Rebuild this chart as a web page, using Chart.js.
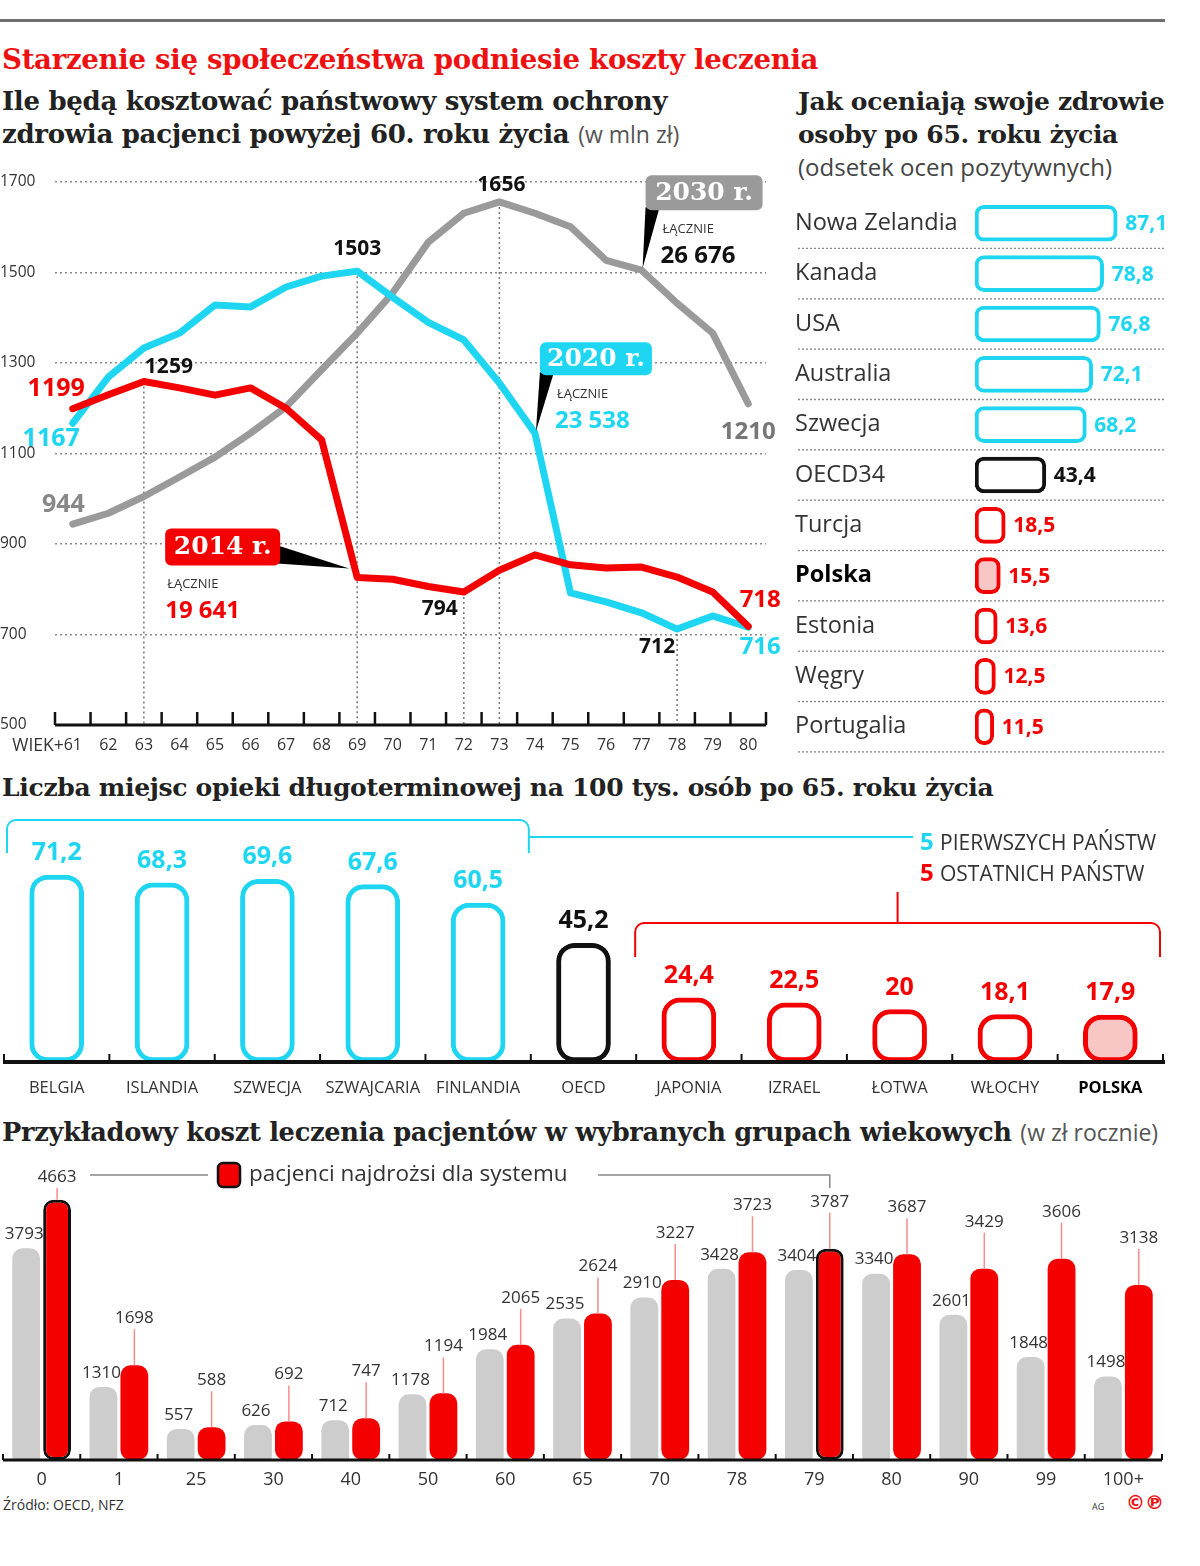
<!DOCTYPE html>
<html lang="pl">
<head>
<meta charset="utf-8">
<script src="https://cdn.jsdelivr.net/npm/chart.js@4.4.1/dist/chart.umd.min.js"></script>
<style>
  body { margin: 0; background: #fff; width: 1200px; height: 1566px; position: relative; overflow: hidden;
         font-family: 'Open Sans', sans-serif; color: #222; }
  .abs { position: absolute; white-space: nowrap; }
  .serif { font-family: 'DejaVu Serif', serif; font-weight: bold; letter-spacing: -0.3px; }
  .note { font-family: 'Open Sans', sans-serif; font-weight: normal; color: #555; letter-spacing: 0; }
  canvas { position: absolute; }
</style>
</head>
<body>
<div class="abs" style="left:0;top:19px;width:1165px;height:3px;background:#6e6e6e"></div>
<div class="abs serif" style="left:2px;top:43px;font-size:27.6px;color:#ee1111">Starzenie się społeczeństwa podniesie koszty leczenia</div>
<div class="abs serif" style="left:2px;top:85px;font-size:26px;line-height:33px">Ile będą kosztować państwowy system ochrony<br>zdrowia pacjenci powyżej 60. roku życia <span class="note" style="font-size:23px">(w mln zł)</span></div>
<div class="abs serif" style="left:798px;top:85px;font-size:25px;line-height:33px">Jak oceniają swoje zdrowie<br>osoby po 65. roku życia</div>
<div class="abs note" style="left:798px;top:150px;font-size:24px;color:#444">(odsetek ocen pozytywnych)</div>
<div class="abs serif" style="left:2px;top:773px;font-size:25px">Liczba miejsc opieki długoterminowej na 100 tys. osób po 65. roku życia</div>
<div class="abs serif" style="left:2px;top:1116px;font-size:25.7px">Przykładowy koszt leczenia pacjentów w wybranych grupach wiekowych <span class="note" style="font-size:23px">(w zł rocznie)</span></div>
<div class="abs" style="left:3px;top:1495px;font-size:14px;color:#333">Źródło: OECD, NFZ</div>
<div class="abs" style="left:1092px;top:1500px;font-size:9px;color:#333">AG</div>
<div class="abs" style="left:1126px;top:1491px;font-size:19px;font-weight:bold;color:#ee1111;font-family:'DejaVu Sans'">©℗</div>

<canvas id="lineChart" width="780" height="600" style="left:0;top:170px"></canvas>
<canvas id="healthChart" width="385" height="582" style="left:795px;top:184px"></canvas>
<canvas id="careChart" width="1200" height="300" style="left:0;top:810px"></canvas>
<canvas id="costChart" width="1200" height="345" style="left:0;top:1150px"></canvas>

<script>
// --- data ---
var lineAges = ['61', '62', '63', '64', '65', '66', '67', '68', '69', '70', '71', '72', '73', '74', '75', '76', '77', '78', '79', '80'];
var cost2014 = [1199, 1230, 1259, 1245, 1229, 1245, 1200, 1130, 826, 822, 806, 794, 842, 876, 854, 847, 849, 827, 794, 718];
var cost2020 = [1167, 1269, 1333, 1366, 1428, 1424, 1468, 1492, 1503, 1445, 1390, 1351, 1256, 1145, 792, 772, 748, 712, 741, 716];
var cost2030 = [944, 968, 1005, 1048, 1092, 1145, 1203, 1285, 1366, 1455, 1567, 1631, 1656, 1631, 1601, 1527, 1505, 1432, 1366, 1210];
var yearNames = ['2014 r.', '2020 r.', '2030 r.'];
var yearTotals = ['19 641', '23 538', '26 676'];
var lineTicksY = [500, 700, 900, 1100, 1300, 1500, 1700];

var healthCountries = ['Nowa Zelandia', 'Kanada', 'USA', 'Australia', 'Szwecja', 'OECD34', 'Turcja', 'Polska', 'Estonia', 'Węgry', 'Portugalia'];
var healthShare = [87.1, 78.8, 76.8, 72.1, 68.2, 43.4, 18.5, 15.5, 13.6, 12.5, 11.5];

var careCountries = ['BELGIA', 'ISLANDIA', 'SZWECJA', 'SZWAJCARIA', 'FINLANDIA', 'OECD', 'JAPONIA', 'IZRAEL', 'ŁOTWA', 'WŁOCHY', 'POLSKA'];
var careBeds = [71.2, 68.3, 69.6, 67.6, 60.5, 45.2, 24.4, 22.5, 20, 18.1, 17.9];

var ageGroups = ['0', '1', '25', '30', '40', '50', '60', '65', '70', '78', '79', '80', '90', '99', '100+'];
var avgCost = [3793, 1310, 557, 626, 712, 1178, 1984, 2535, 2910, 3428, 3404, 3340, 2601, 1848, 1498];
var maxCost = [4663, 1698, 588, 692, 747, 1194, 2065, 2624, 3227, 3723, 3787, 3687, 3429, 3606, 3138];
var costliest = ['0', '79'];

// --- styles ---
var RED = '#f40000', CYAN = '#1ed6f2', GRAY = '#9a9a9a', PINK = '#f9c6c6';
var SANS = "'Open Sans', sans-serif";
Chart.defaults.font.family = SANS;
Chart.defaults.animation = false;

function pl(v) { return String(v).replace('.', ','); }
function groupColor(name, i) { // first five / average / last five
  if (i < 5) return CYAN;
  if (i === 5) return '#111';
  return RED;
}

// ===== line chart =====
var pointLabels = [
  { ds: 0, i: 0, dx: 12, dy: -20, align: 'right', color: RED, size: 25 },
  { ds: 1, i: 0, dx: 7, dy: 16, align: 'right', color: CYAN, size: 25 },
  { ds: 2, i: 0, dx: 12, dy: -19, align: 'right', color: '#888', size: 25 },
  { ds: 0, i: 2, dx: 25, dy: -15, align: 'center', color: '#111', size: 21 },
  { ds: 1, i: 8, dx: 0, dy: -22, align: 'center', color: '#111', size: 21 },
  { ds: 2, i: 12, dx: 2, dy: -17, align: 'center', color: '#111', size: 21 },
  { ds: 0, i: 11, dx: -24, dy: 17, align: 'center', color: '#111', size: 21 },
  { ds: 1, i: 17, dx: -20, dy: 18, align: 'center', color: '#111', size: 21 },
  { ds: 0, i: 19, dx: 12, dy: -26, align: 'center', color: RED, size: 24 },
  { ds: 1, i: 19, dx: 12, dy: 20, align: 'center', color: CYAN, size: 24 },
  { ds: 2, i: 19, dx: 0, dy: 28, align: 'center', color: '#777', size: 24 }
];
var dropLines = [[0, 2], [1, 8], [2, 12], [0, 11], [1, 17]];
var callouts = [
  { ds: 0, i: 8, bx: -192, by: -49, bw: 115, bh: 37, tail: 'right', lx: 2, fill: RED, totalColor: RED },
  { ds: 1, i: 13, bx: 5, by: -91, bw: 112, bh: 33, tail: 'down', lx: 17, fill: CYAN, totalColor: CYAN },
  { ds: 2, i: 16, bx: 4, by: -95, bw: 117, bh: 35, tail: 'down', lx: 17, fill: GRAY, totalColor: '#111' }
];

function roundBox(ctx, x, y, w, h, r) {
  ctx.beginPath();
  ctx.moveTo(x + r, y);
  ctx.arcTo(x + w, y, x + w, y + h, r);
  ctx.arcTo(x + w, y + h, x, y + h, r);
  ctx.arcTo(x, y + h, x, y, r);
  ctx.arcTo(x, y, x + w, y, r);
  ctx.closePath();
}

var lineExtras = {
  id: 'lineExtras',
  beforeDatasetsDraw: function (chart) {
    var ctx = chart.ctx, area = chart.chartArea;
    ctx.save();
    ctx.setLineDash([2, 3]);
    ctx.strokeStyle = '#777';
    ctx.lineWidth = 1.5;
    dropLines.forEach(function (d) {
      var p = chart.getDatasetMeta(d[0]).data[d[1]];
      ctx.beginPath(); ctx.moveTo(p.x, p.y); ctx.lineTo(p.x, area.bottom); ctx.stroke();
    });
    ctx.restore();
  },
  afterDatasetsDraw: function (chart) {
    var ctx = chart.ctx, area = chart.chartArea, x = chart.scales.x;
    var step = x.getPixelForValue(1) - x.getPixelForValue(0);
    ctx.save();
    // axis with upward ticks
    ctx.strokeStyle = '#111';
    ctx.lineWidth = 3;
    ctx.beginPath(); ctx.moveTo(area.left, area.bottom); ctx.lineTo(area.right, area.bottom); ctx.stroke();
    ctx.lineWidth = 2.5;
    for (var k = 0; k <= lineAges.length; k++) {
      var tx = x.getPixelForValue(0) - step / 2 + k * step;
      ctx.beginPath(); ctx.moveTo(tx, area.bottom); ctx.lineTo(tx, area.bottom - 13); ctx.stroke();
    }
    ctx.fillStyle = '#333';
    ctx.font = '17.5px ' + SANS;
    ctx.textAlign = 'right'; ctx.textBaseline = 'middle';
    ctx.fillText('WIEK+', x.getPixelForValue(0) - 9, area.bottom + 21);

    // value labels
    ctx.textBaseline = 'middle';
    pointLabels.forEach(function (l) {
      var p = chart.getDatasetMeta(l.ds).data[l.i];
      var v = chart.data.datasets[l.ds].data[l.i];
      ctx.font = 'bold ' + l.size + 'px ' + SANS;
      ctx.fillStyle = l.color;
      ctx.textAlign = l.align;
      ctx.fillText(String(v), p.x + l.dx, p.y + l.dy);
    });

    // year callouts
    callouts.forEach(function (c, n) {
      var p = chart.getDatasetMeta(c.ds).data[c.i];
      var left = p.x + c.bx, top = p.y + c.by, bottom = top + c.bh;
      ctx.fillStyle = '#000';
      ctx.beginPath();
      if (c.tail === 'right') {
        ctx.moveTo(left + c.bw - 3, top + c.bh * 0.45);
        ctx.lineTo(left + c.bw - 3, bottom - 2);
        ctx.lineTo(p.x - 8, p.y - 9);
      } else {
        ctx.moveTo(left, bottom - 3);
        ctx.lineTo(left + 14, bottom - 3);
        ctx.lineTo(p.x + 1, p.y - 2);
      }
      ctx.closePath(); ctx.fill();
      ctx.fillStyle = c.fill;
      roundBox(ctx, left, top, c.bw, c.bh, 6);
      ctx.fill();
      ctx.fillStyle = '#fff';
      ctx.font = 'bold 25px "DejaVu Serif", serif';
      ctx.textAlign = 'center';
      ctx.fillText(yearNames[n], left + c.bw / 2, top + c.bh / 2 + 1);
      ctx.textAlign = 'left';
      ctx.fillStyle = '#333';
      ctx.font = '13px ' + SANS;
      ctx.fillText('ŁĄCZNIE', left + c.lx, bottom + 19);
      ctx.fillStyle = c.totalColor;
      ctx.font = 'bold 24px ' + SANS;
      ctx.fillText(yearTotals[n], left + c.lx - 2, bottom + 46);
    });
    ctx.restore();
  }
};

new Chart(document.getElementById('lineChart'), {
  type: 'line',
  data: {
    labels: lineAges,
    datasets: [
      { label: '2014', data: cost2014, borderColor: RED },
      { label: '2020', data: cost2020, borderColor: CYAN },
      { label: '2030', data: cost2030, borderColor: GRAY }
    ]
  },
  options: {
    responsive: false,
    animation: false,
    datasets: { line: { borderWidth: 7, pointRadius: 0, tension: 0, borderJoinStyle: 'round', borderCapStyle: 'round' } },
    layout: { padding: { top: 12, right: 14 } },
    plugins: { legend: { display: false }, tooltip: { enabled: false } },
    scales: {
      x: {
        offset: true,
        grid: { display: false },
        border: { display: false },
        ticks: { font: { size: 16 }, color: '#333', padding: 3, maxRotation: 0, autoSkip: false },
        afterFit: function (s) { s.height = 45; }
      },
      y: {
        min: 500, max: 1700,
        afterBuildTicks: function (s) { s.ticks = lineTicksY.map(function (v) { return { value: v }; }); },
        ticks: { font: { size: 15.5 }, color: '#333', crossAlign: 'far', padding: 0,
                 callback: function (v) { return String(v); } },
        grid: {
          color: function (c) { return c.tick && c.tick.value === 500 ? 'rgba(0,0,0,0)' : '#8a8a8a'; },
          lineWidth: 1.5, drawTicks: false
        },
        border: { display: false, dash: [2, 3] },
        afterFit: function (s) { s.width = 55; }
      }
    }
  },
  plugins: [lineExtras]
});

// ===== health self-assessment (right) =====
var healthExtras = {
  id: 'healthExtras',
  afterDatasetsDraw: function (chart) {
    var ctx = chart.ctx, y = chart.scales.y, meta = chart.getDatasetMeta(0);
    var step = y.getPixelForValue(1) - y.getPixelForValue(0);
    ctx.save();
    ctx.setLineDash([2, 2]);
    ctx.strokeStyle = '#888';
    ctx.lineWidth = 1.3;
    for (var k = 1; k <= healthCountries.length; k++) {
      var yy = y.getPixelForValue(0) - step / 2 + k * step;
      ctx.beginPath(); ctx.moveTo(3, yy); ctx.lineTo(370, yy); ctx.stroke();
    }
    ctx.setLineDash([]);
    ctx.font = 'bold 21px ' + SANS;
    ctx.textBaseline = 'middle';
    ctx.textAlign = 'left';
    meta.data.forEach(function (bar, i) {
      ctx.fillStyle = groupColor(healthCountries[i], i);
      ctx.fillText(pl(healthShare[i]), bar.x + 8, bar.y + 1);
    });
    ctx.restore();
  }
};

new Chart(document.getElementById('healthChart'), {
  type: 'bar',
  data: {
    labels: healthCountries,
    datasets: [{
      data: healthShare,
      backgroundColor: function (c) { return healthCountries[c.dataIndex] === 'Polska' ? PINK : '#fff'; },
      borderColor: function (c) { return groupColor(healthCountries[c.dataIndex], c.dataIndex); },
      borderWidth: 4, borderRadius: 9, borderSkipped: false, barThickness: 36
    }]
  },
  options: {
    indexAxis: 'y',
    responsive: false,
    animation: false,
    layout: { padding: { right: 45, bottom: 7 } },
    plugins: { legend: { display: false }, tooltip: { enabled: false } },
    scales: {
      x: { display: false, min: 0, max: 98 },
      y: {
        grid: { display: false },
        border: { display: false },
        ticks: {
          crossAlign: 'far', padding: 0,
          color: function (c) { return healthCountries[c.index] === 'Polska' ? '#000' : '#333'; },
          font: function (c) { return { size: 23.5, weight: healthCountries[c.index] === 'Polska' ? 'bold' : 'normal' }; }
        },
        afterFit: function (s) { s.width = 180; }
      }
    }
  },
  plugins: [healthExtras]
});

// ===== long-term care places (middle) =====
var careExtras = {
  id: 'careExtras',
  afterDatasetsDraw: function (chart) {
    var ctx = chart.ctx, area = chart.chartArea, x = chart.scales.x, meta = chart.getDatasetMeta(0);
    var step = x.getPixelForValue(1) - x.getPixelForValue(0);
    var edge = function (k) { return x.getPixelForValue(0) - step / 2 + k * step; };
    ctx.save();
    ctx.strokeStyle = '#111';
    ctx.lineWidth = 4;
    ctx.beginPath(); ctx.moveTo(3, area.bottom); ctx.lineTo(edge(careCountries.length) + 2, area.bottom); ctx.stroke();
    ctx.lineWidth = 2;
    for (var k = 0; k <= careCountries.length; k++) {
      ctx.beginPath(); ctx.moveTo(edge(k), area.bottom); ctx.lineTo(edge(k), area.bottom - 8); ctx.stroke();
    }
    // value labels
    ctx.font = 'bold 25px ' + SANS;
    ctx.textAlign = 'center'; ctx.textBaseline = 'middle';
    meta.data.forEach(function (bar, i) {
      ctx.fillStyle = groupColor(careCountries[i], i);
      ctx.fillText(pl(careBeds[i]), bar.x, bar.y - 22);
    });
    // brackets
    ctx.lineWidth = 2;
    ctx.lineJoin = 'round';
    ctx.strokeStyle = CYAN;
    var l = edge(0) + 3, r = edge(5) - 2;
    ctx.beginPath();
    ctx.moveTo(l, 43); ctx.arcTo(l, 10, l + 10, 10, 9); ctx.arcTo(r, 10, r, 43, 9); ctx.lineTo(r, 43);
    ctx.moveTo(r, 27); ctx.lineTo(913, 27);
    ctx.stroke();
    ctx.strokeStyle = RED;
    l = edge(6) - 1; r = edge(11) - 3;
    var mid = (l + r) / 2;
    ctx.beginPath();
    ctx.moveTo(l, 147); ctx.arcTo(l, 113, l + 10, 113, 9); ctx.arcTo(r, 113, r, 147, 9); ctx.lineTo(r, 147);
    ctx.moveTo(mid, 113); ctx.lineTo(mid, 82);
    ctx.stroke();
    // legend text
    ctx.textAlign = 'left';
    ctx.font = 'bold 24px ' + SANS;
    ctx.fillStyle = CYAN; ctx.fillText('5', 920, 33);
    ctx.fillStyle = RED; ctx.fillText('5', 920, 64);
    ctx.font = '21px ' + SANS;
    ctx.fillStyle = '#333';
    ctx.fillText('PIERWSZYCH PAŃSTW', 940, 34);
    ctx.fillText('OSTATNICH PAŃSTW', 940, 65);
    ctx.restore();
  }
};

new Chart(document.getElementById('careChart'), {
  type: 'bar',
  data: {
    labels: careCountries,
    datasets: [{
      data: careBeds,
      backgroundColor: function (c) { return careCountries[c.dataIndex] === 'POLSKA' ? PINK : '#fff'; },
      borderColor: function (c) { return groupColor(careCountries[c.dataIndex], c.dataIndex); },
      borderWidth: 5, borderRadius: 18, borderSkipped: false, barThickness: 54
    }]
  },
  options: {
    responsive: false,
    animation: false,
    layout: { padding: { left: 4, right: 37, top: 42 } },
    plugins: { legend: { display: false }, tooltip: { enabled: false } },
    scales: {
      x: {
        grid: { display: false },
        border: { display: false },
        ticks: {
          padding: 8, maxRotation: 0, autoSkip: false,
          color: function (c) { return careCountries[c.index] === 'POLSKA' ? '#000' : '#333'; },
          font: function (c) { return { size: 16.5, weight: careCountries[c.index] === 'POLSKA' ? 'bold' : 'normal' }; }
        },
        afterFit: function (s) { s.height = 48; }
      },
      y: { display: false, min: 0, max: 80 }
    }
  },
  plugins: [careExtras]
});

// ===== treatment cost by age group (bottom) =====
var costExtras = {
  id: 'costExtras',
  afterDatasetsDraw: function (chart) {
    var ctx = chart.ctx, area = chart.chartArea, x = chart.scales.x;
    var grayBars = chart.getDatasetMeta(0).data, redBars = chart.getDatasetMeta(1).data;
    var step = x.getPixelForValue(1) - x.getPixelForValue(0);
    var edge = function (k) { return x.getPixelForValue(0) - step / 2 + k * step; };
    ctx.save();
    ctx.strokeStyle = '#111';
    ctx.lineWidth = 3;
    ctx.beginPath(); ctx.moveTo(3, area.bottom); ctx.lineTo(edge(ageGroups.length), area.bottom); ctx.stroke();
    ctx.lineWidth = 2;
    for (var k = 0; k <= ageGroups.length; k++) {
      ctx.beginPath(); ctx.moveTo(edge(k), area.bottom); ctx.lineTo(edge(k), area.bottom - 6); ctx.stroke();
    }
    ctx.font = '17px ' + SANS;
    ctx.textAlign = 'center'; ctx.textBaseline = 'middle';
    ctx.fillStyle = '#333';
    grayBars.forEach(function (bar, i) { ctx.fillText(String(avgCost[i]), bar.x - 2, bar.y - 14); });
    ctx.strokeStyle = '#f78c8c';
    ctx.lineWidth = 1.5;
    redBars.forEach(function (bar, i) {
      var ly = Math.max(bar.y - 47, 27);
      ctx.beginPath(); ctx.moveTo(bar.x, ly + 11); ctx.lineTo(bar.x, bar.y); ctx.stroke();
      ctx.fillText(String(maxCost[i]), bar.x, ly);
    });
    // legend
    var firstRed = redBars[0], hi = redBars[ageGroups.indexOf(costliest[1])];
    ctx.strokeStyle = '#888';
    ctx.lineWidth = 1.5;
    ctx.beginPath();
    ctx.moveTo(firstRed.x + 33, 25); ctx.lineTo(208, 25);
    ctx.moveTo(598, 25); ctx.lineTo(hi.x, 25); ctx.lineTo(hi.x, 38);
    ctx.stroke();
    ctx.fillStyle = RED; ctx.strokeStyle = '#111'; ctx.lineWidth = 2.5;
    roundBox(ctx, 218, 13, 22, 24, 5);
    ctx.fill(); ctx.stroke();
    ctx.fillStyle = '#333';
    ctx.font = '22.5px ' + SANS;
    ctx.textAlign = 'left';
    ctx.fillText('pacjenci najdrożsi dla systemu', 249, 25);
    ctx.restore();
  }
};

new Chart(document.getElementById('costChart'), {
  type: 'bar',
  data: {
    labels: ageGroups,
    datasets: [
      {
        label: 'średnio', data: avgCost, backgroundColor: '#cdcdcd',
        borderRadius: { topLeft: 10, topRight: 10, bottomLeft: 3, bottomRight: 3 }, borderSkipped: false
      },
      {
        label: 'pacjenci najdrożsi dla systemu', data: maxCost, backgroundColor: RED, borderColor: '#111',
        borderWidth: function (c) { return costliest.indexOf(ageGroups[c.dataIndex]) >= 0 ? 3 : 0; },
        borderRadius: 10, borderSkipped: false
      }
    ]
  },
  options: {
    responsive: false,
    animation: false,
    datasets: { bar: { categoryPercentage: 0.8, barPercentage: 0.9 } },
    layout: { padding: { left: 3, right: 38, top: 31 } },
    plugins: { legend: { display: false }, tooltip: { enabled: false } },
    scales: {
      x: {
        grid: { display: false },
        border: { display: false },
        ticks: { font: { size: 18 }, color: '#333', padding: 1, maxRotation: 0, autoSkip: false },
        afterFit: function (s) { s.height = 35; }
      },
      y: { display: false, min: 0, max: 5000 }
    }
  },
  plugins: [costExtras]
});
</script>
</body>
</html>
